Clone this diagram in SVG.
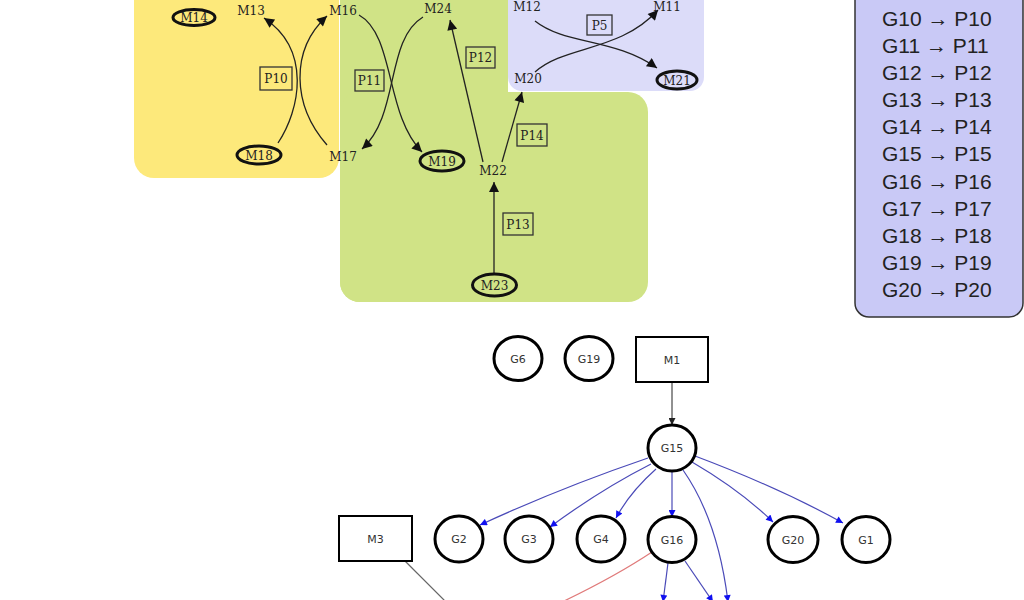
<svg xmlns="http://www.w3.org/2000/svg" width="1024" height="600" viewBox="0 0 1024 600">
<style>
.serif{font-family:"DejaVu Serif","Liberation Serif",serif;font-size:12px;fill:#222;text-anchor:middle}
.sans{font-family:"DejaVu Sans","Liberation Sans",sans-serif;font-size:11px;fill:#333;text-anchor:middle}
.leg{font-family:"Liberation Sans",Arial,sans-serif;font-size:21px;fill:#222}
.ell{fill:none;stroke:#111;stroke-width:3}
.pbox{fill:none;stroke:#333;stroke-width:1.3}
.tc{fill:none;stroke:#222;stroke-width:1.3}
.gn{fill:#fff;stroke:#000;stroke-width:3}
.gr{fill:#fff;stroke:#000;stroke-width:2}
.be{fill:none;stroke:#4a4ab8;stroke-width:1.2}
</style>
<defs>
<marker id="ah" viewBox="0 0 10 10" refX="10" refY="5" markerWidth="13" markerHeight="10" markerUnits="userSpaceOnUse" orient="auto"><path d="M0,0 L10,5 L0,10 z" fill="#111"/></marker>
<marker id="bh" viewBox="0 0 10 10" refX="10" refY="5" markerWidth="9" markerHeight="7" markerUnits="userSpaceOnUse" orient="auto"><path d="M0,0 L10,5 L0,10 z" fill="#1010f0"/></marker>
<marker id="kh" viewBox="0 0 10 10" refX="10" refY="5" markerWidth="9" markerHeight="7" markerUnits="userSpaceOnUse" orient="auto"><path d="M0,0 L10,5 L0,10 z" fill="#222"/></marker>
</defs>
<rect width="1024" height="600" fill="#fff"/>
<g id="regions">
<rect x="134" y="-30" width="205" height="208" rx="20" fill="#fde97b"/>
<rect x="340" y="-30" width="168" height="332" rx="20" fill="#d0e386"/>
<rect x="340" y="92" width="308" height="210" rx="20" fill="#d0e386"/>
<rect x="508" y="-30" width="196" height="121" rx="14" fill="#dcdcf9"/>
</g>
<g id="legend">
<rect x="855" y="-30" width="168" height="347" rx="14" fill="#c9c9f6" stroke="#333" stroke-width="1.5"/>
<text class="leg" x="882" y="26">G10 → P10</text>
<text class="leg" x="882" y="53">G11 → P11</text>
<text class="leg" x="882" y="80">G12 → P12</text>
<text class="leg" x="882" y="107">G13 → P13</text>
<text class="leg" x="882" y="134">G14 → P14</text>
<text class="leg" x="882" y="161">G15 → P15</text>
<text class="leg" x="882" y="189">G16 → P16</text>
<text class="leg" x="882" y="216">G17 → P17</text>
<text class="leg" x="882" y="243">G18 → P18</text>
<text class="leg" x="882" y="270">G19 → P19</text>
<text class="leg" x="882" y="297">G20 → P20</text>
</g>
<g id="top-connectors">
<path class="tc" d="M278,143 C300,110 312,50 264,18" marker-end="url(#ah)"/>
<path class="tc" d="M327,145 C292,105 290,50 327,16" marker-end="url(#ah)"/>
<path class="tc" d="M359,15 C395,35 385,115 422,152" marker-end="url(#ah)"/>
<path class="tc" d="M423,17 C385,40 400,115 362,149" marker-end="url(#ah)"/>
<path class="tc" d="M483,162 L450,20" marker-end="url(#ah)"/>
<path class="tc" d="M502,162 L522,92" marker-end="url(#ah)"/>
<path class="tc" d="M494,273 L494,182" marker-end="url(#ah)"/>
<path class="tc" d="M535,21 C565,45 615,38 657,68" marker-end="url(#ah)"/>
<path class="tc" d="M535,72 C565,45 620,52 658,10" marker-end="url(#ah)"/>
</g>
<g id="M14"><ellipse class="ell" cx="194" cy="17.5" rx="21" ry="8"/><text class="serif" x="194" y="22">M14</text></g>
<g id="M13"><text class="serif" x="251" y="15">M13</text></g>
<g id="M16"><text class="serif" x="343" y="15">M16</text></g>
<g id="P10"><rect class="pbox" x="260" y="67" width="32" height="23"/><text class="serif" x="276" y="83">P10</text></g>
<g id="M18"><ellipse class="ell" cx="259" cy="155" rx="22" ry="9"/><text class="serif" x="259" y="159.5">M18</text></g>
<g id="M17"><text class="serif" x="343" y="161">M17</text></g>
<g id="M24"><text class="serif" x="438" y="13">M24</text></g>
<g id="P11"><rect class="pbox" x="355" y="70" width="29" height="21"/><text class="serif" x="369.5" y="85">P11</text></g>
<g id="P12"><rect class="pbox" x="466" y="47" width="29" height="21"/><text class="serif" x="480.5" y="62">P12</text></g>
<g id="M19"><ellipse class="ell" cx="442" cy="161" rx="22" ry="10"/><text class="serif" x="442" y="165.5">M19</text></g>
<g id="M22"><text class="serif" x="493" y="175">M22</text></g>
<g id="P14"><rect class="pbox" x="517" y="124" width="30" height="22"/><text class="serif" x="532" y="139.5">P14</text></g>
<g id="P13"><rect class="pbox" x="503" y="213" width="30" height="22"/><text class="serif" x="518" y="228.5">P13</text></g>
<g id="M23"><ellipse class="ell" cx="494.5" cy="285" rx="22" ry="11"/><text class="serif" x="494.5" y="289.5">M23</text></g>
<g id="M12"><text class="serif" x="527" y="11">M12</text></g>
<g id="M11"><text class="serif" x="667" y="11">M11</text></g>
<g id="P5"><rect class="pbox" x="587" y="15" width="25" height="20"/><text class="serif" x="599.5" y="29.5">P5</text></g>
<g id="M20"><text class="serif" x="528" y="83">M20</text></g>
<g id="M21"><ellipse class="ell" cx="677" cy="80" rx="20" ry="9"/><text class="serif" x="677" y="84.5">M21</text></g>
<g id="bottom-connectors">
<path d="M672,382 L672,425" fill="none" stroke="#222" stroke-width="1" marker-end="url(#kh)"/>
<path class="be" d="M648,458 Q560,488 480,525" marker-end="url(#bh)"/>
<path class="be" d="M651,464 Q600,490 550,527" marker-end="url(#bh)"/>
<path class="be" d="M656,469 Q630,492 616,518" marker-end="url(#bh)"/>
<path class="be" d="M672,472 L672,517" marker-end="url(#bh)"/>
<path class="be" d="M683,470 Q718,520 728,602" marker-end="url(#bh)"/>
<path class="be" d="M692,462 Q740,490 773,522" marker-end="url(#bh)"/>
<path class="be" d="M695,456 Q780,488 843,523" marker-end="url(#bh)"/>
<path class="be" d="M668,563 L663,602" marker-end="url(#bh)"/>
<path class="be" d="M685,561 L713,602" marker-end="url(#bh)"/>
<path d="M652,552 Q610,580 545,610" fill="none" stroke="#e07a7a" stroke-width="1.2"/>
<path d="M405,561 L452,608" fill="none" stroke="#666" stroke-width="1.2"/>
</g>
<g id="G6"><ellipse class="gn" cx="518" cy="358.5" rx="24" ry="22"/><text class="sans" x="518" y="362.5">G6</text></g>
<g id="G19"><ellipse class="gn" cx="589" cy="358.5" rx="24" ry="22"/><text class="sans" x="589" y="362.5">G19</text></g>
<g id="M1"><rect class="gr" x="636" y="337" width="72" height="45"/><text class="sans" x="672" y="363.5">M1</text></g>
<g id="G15"><ellipse class="gn" cx="672" cy="448" rx="24" ry="23"/><text class="sans" x="672" y="452">G15</text></g>
<g id="M3"><rect class="gr" x="339" y="516" width="73" height="45"/><text class="sans" x="375.5" y="542.5">M3</text></g>
<g id="G2"><ellipse class="gn" cx="459" cy="539" rx="24" ry="23"/><text class="sans" x="459" y="543">G2</text></g>
<g id="G3"><ellipse class="gn" cx="529" cy="539" rx="24" ry="23"/><text class="sans" x="529" y="543">G3</text></g>
<g id="G4"><ellipse class="gn" cx="601" cy="539" rx="24" ry="23"/><text class="sans" x="601" y="543">G4</text></g>
<g id="G16"><ellipse class="gn" cx="672" cy="539.5" rx="24" ry="23"/><text class="sans" x="672" y="543.5">G16</text></g>
<g id="G20"><ellipse class="gn" cx="793" cy="539.5" rx="25" ry="23"/><text class="sans" x="793" y="543.5">G20</text></g>
<g id="G1"><ellipse class="gn" cx="866" cy="539.5" rx="24" ry="23"/><text class="sans" x="866" y="543.5">G1</text></g>
</svg>
